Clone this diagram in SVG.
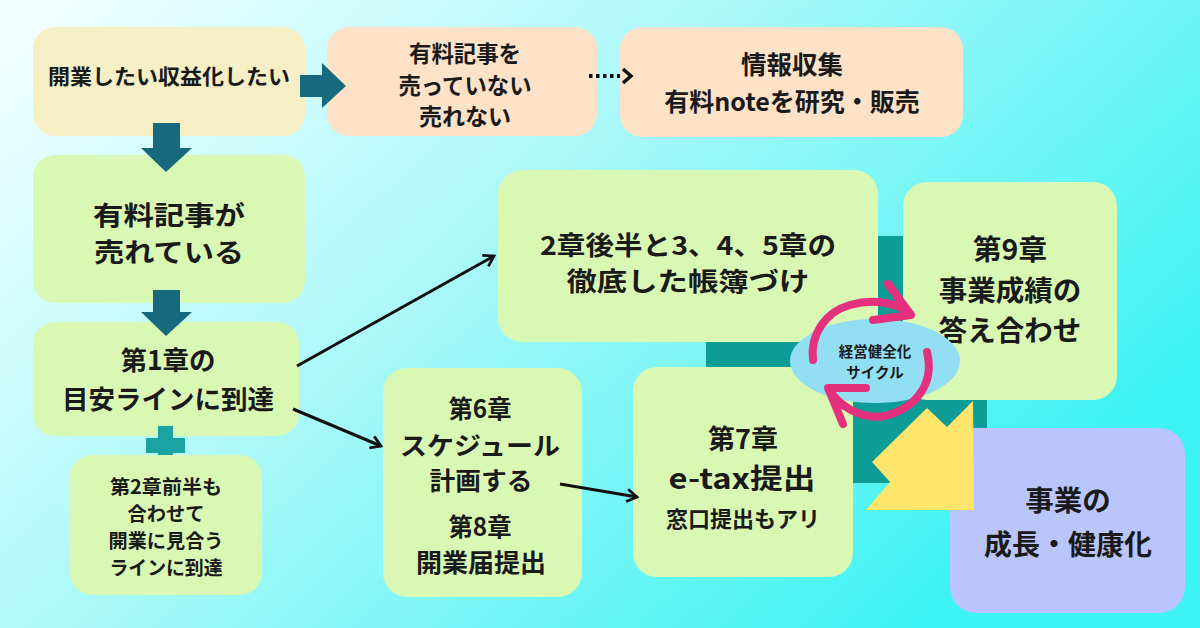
<svg xmlns="http://www.w3.org/2000/svg" width="1200" height="628" viewBox="0 0 1200 628">
<defs>
<linearGradient id="bg" x1="0" y1="0" x2="1" y2="0.55">
<stop offset="0" stop-color="#f6ffff"/>
<stop offset="0.45" stop-color="#aef8fa"/>
<stop offset="1" stop-color="#3ef3f3"/>
</linearGradient>
<marker id="ah" viewBox="0 0 12 12" refX="10" refY="6" markerWidth="5" markerHeight="5" orient="auto" markerUnits="strokeWidth">
<polyline points="2,1 10,6 2,11" fill="none" stroke="#111" stroke-width="2.2" stroke-linejoin="miter"/>
</marker>
</defs>
<style>
text{font-family:"Noto Sans CJK JP","Noto Sans",sans-serif;font-weight:700;fill:#1a1a1a;text-anchor:middle;dominant-baseline:central}
tspan{}
.g{fill:#d9f8b4}
.y{fill:#f6efc6}
.p{fill:#fde2c8}
.l{fill:#b9c5fb}
.blk{fill:#17697d}
.ln{stroke:#111;stroke-width:3;fill:none;marker-end:url(#ah)}
.pk{stroke:#e5307e;stroke-width:8;fill:none;stroke-linecap:round;stroke-linejoin:round}
</style>
<rect width="1200" height="628" fill="url(#bg)"/>
<rect x="706" y="236" width="281" height="247" fill="#0e9c97"/>

<g id="n1"><rect class="y" x="33" y="27" width="272" height="109" rx="22"/><text x="169" y="75" font-size="21" textLength="242" lengthAdjust="spacingAndGlyphs">開業したい収益化したい</text></g>
<g id="n2"><rect class="p" x="327" y="27" width="270" height="109" rx="22"/><text font-size="22.5" lengthAdjust="spacingAndGlyphs"><tspan x="465" y="52" textLength="112" lengthAdjust="spacingAndGlyphs">有料記事を</tspan><tspan x="465" y="84" textLength="133" lengthAdjust="spacingAndGlyphs">売っていない</tspan><tspan x="465" y="115" textLength="92" lengthAdjust="spacingAndGlyphs">売れない</tspan></text></g>
<g id="n3"><rect class="p" x="620" y="27" width="343" height="110" rx="22"/><text font-size="25"><tspan x="792" y="62" font-size="25.5">情報収集</tspan><tspan x="792" y="100">有料noteを研究・販売</tspan></text></g>
<g id="n4"><rect class="g" x="33" y="155" width="272" height="148" rx="22"/><text font-size="26.5"><tspan x="169" y="213" textLength="152" lengthAdjust="spacingAndGlyphs">有料記事が</tspan><tspan x="169" y="250" textLength="150" lengthAdjust="spacingAndGlyphs">売れている</tspan></text></g>
<g id="n5"><rect class="g" x="33" y="322" width="266" height="114" rx="22"/><text font-size="26.5"><tspan x="168" y="358">第1章の</tspan><tspan x="168" y="397">目安ラインに到達</tspan></text></g>
<g id="plus"><rect x="158" y="426" width="15" height="39" fill="#1aa3a3"/><rect x="146" y="438" width="39" height="15" fill="#1aa3a3"/></g>
<g id="n6"><rect class="g" x="70" y="455" width="192" height="140" rx="22"/><text font-size="19.5"><tspan x="166" y="485" textLength="112" lengthAdjust="spacingAndGlyphs">第2章前半も</tspan><tspan x="166" y="512" textLength="77" lengthAdjust="spacingAndGlyphs">合わせて</tspan><tspan x="166" y="539" textLength="115" lengthAdjust="spacingAndGlyphs">開業に見合う</tspan><tspan x="166" y="566" textLength="113" lengthAdjust="spacingAndGlyphs">ラインに到達</tspan></text></g>
<g id="n7"><rect class="g" x="498" y="170" width="380" height="172" rx="24"/><text font-size="26"><tspan x="688" y="243" textLength="296" lengthAdjust="spacingAndGlyphs">2章後半と3、4、5章の</tspan><tspan x="688" y="279" textLength="243" lengthAdjust="spacingAndGlyphs">徹底した帳簿づけ</tspan></text></g>
<g id="n8"><rect class="g" x="903" y="182" width="214" height="218" rx="24"/><text font-size="28.5"><tspan x="1010" y="247">第9章</tspan><tspan x="1010" y="288">事業成績の</tspan><tspan x="1010" y="328">答え合わせ</tspan></text></g>
<g id="n9"><rect class="g" x="383" y="368" width="199" height="229" rx="24"/><text font-size="25"><tspan x="480" y="407" textLength="63" lengthAdjust="spacingAndGlyphs">第6章</tspan><tspan x="480" y="444" textLength="160" lengthAdjust="spacingAndGlyphs">スケジュール</tspan><tspan x="481" y="479" textLength="103" lengthAdjust="spacingAndGlyphs">計画する</tspan><tspan x="480" y="525" textLength="63" lengthAdjust="spacingAndGlyphs">第8章</tspan><tspan x="481" y="561" textLength="130" lengthAdjust="spacingAndGlyphs">開業届提出</tspan></text></g>
<g id="n10"><rect class="g" x="633" y="367" width="220" height="210" rx="24"/><text font-size="27"><tspan x="743" y="437">第7章</tspan><tspan x="742" y="477" font-size="28" textLength="147" lengthAdjust="spacingAndGlyphs">e-tax提出</tspan><tspan x="743" y="517" font-size="22">窓口提出もアリ</tspan></text></g>
<g id="n11"><rect class="l" x="950" y="428" width="235" height="185" rx="26"/><text font-size="28"><tspan x="1068" y="498" font-size="28.5">事業の</tspan><tspan x="1068" y="543">成長・健康化</tspan></text></g>
<polygon id="yellow" points="973,401 947,427 927,408 872,462 890,482 866,510 974,510" fill="#fde46a"/>
<g id="cycle">
<ellipse cx="875" cy="361" rx="85" ry="42" fill="#92def3"/>
<text font-size="14.5"><tspan x="875" y="350">経営健全化</tspan><tspan x="875" y="371">サイクル</tspan></text>
<path class="pk" d="M813,360 C810,335 825,312 850,305 C875,298 898,303 910,314"/>
<polyline class="pk" points="888,284 911,315 873,320"/>
<path class="pk" d="M927,352 C935,385 915,408 885,416 C860,420 838,405 829,389"/>
<polyline class="pk" points="866,388 828,388 843,424"/>
</g>
<g id="connectors">
<polygon class="blk" points="300,75 322,75 322,63 346,86 322,108 322,97 300,97"/>
<polygon class="blk" points="153,123 180,123 180,148 192,148 166,172 141,148 153,148"/>
<polygon class="blk" points="153,290 180,290 180,312 192,312 166,336 141,312 153,312"/>
<line x1="589" y1="76" x2="620" y2="76" stroke="#111" stroke-width="4" stroke-dasharray="3.5,3.5"/>
<polyline points="623,69 631,76 623,83" fill="none" stroke="#111" stroke-width="3.5"/>
<line class="ln" x1="297" y1="366" x2="494" y2="256"/>
<line class="ln" x1="293" y1="409" x2="381" y2="446"/>
<line class="ln" x1="560" y1="484" x2="637" y2="497"/>
</g>
</svg>
